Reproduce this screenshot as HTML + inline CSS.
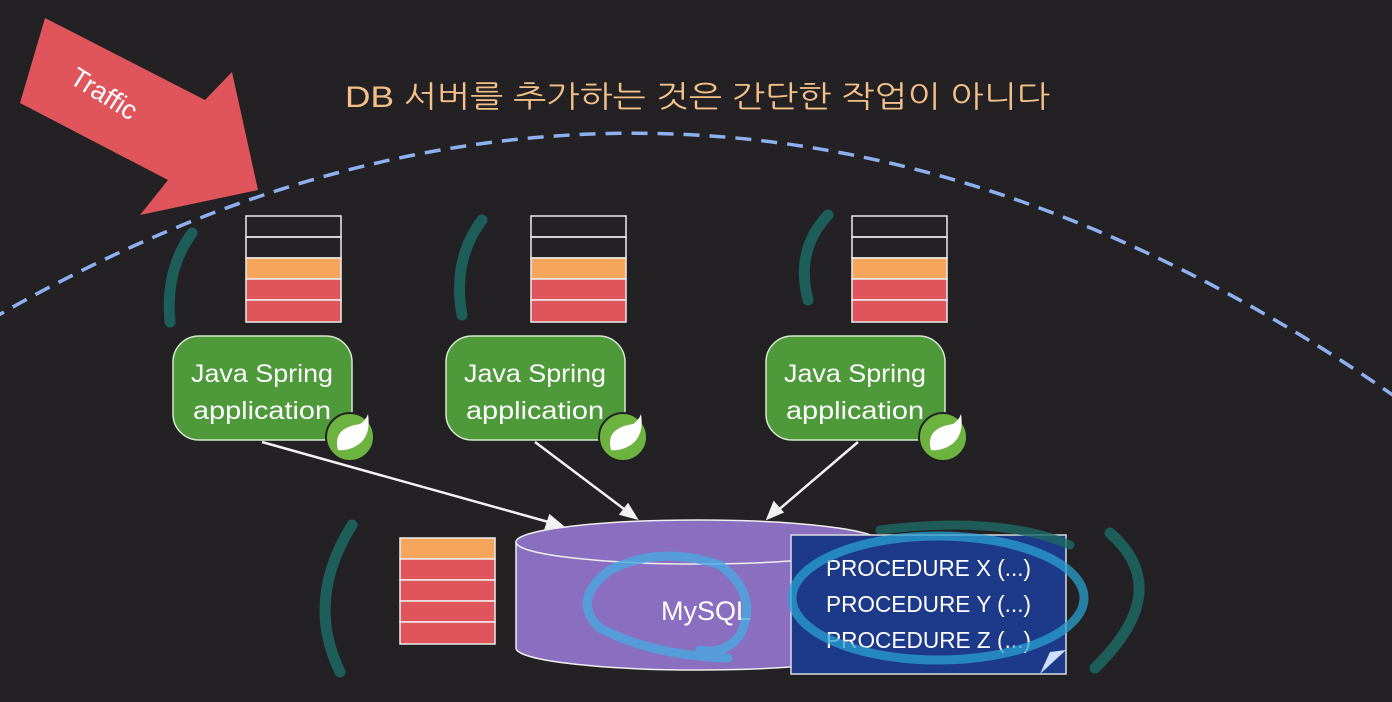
<!DOCTYPE html>
<html><head><meta charset="utf-8"><style>
html,body{margin:0;padding:0;background:#232123;}
svg{display:block}
text{font-family:"Liberation Sans","NanumGothic","Noto Sans CJK KR",sans-serif}
</style></head><body>
<svg width="1392" height="702" viewBox="0 0 1392 702" xmlns="http://www.w3.org/2000/svg">
<rect width="1392" height="702" fill="#232123"/>
<polygon points="45,18 205,100 232,72 258,190 140,215 168,180 20,103" fill="#e0555c"/>
<text x="0" y="0" transform="translate(68,82) rotate(32)" fill="#fff" font-size="27">Traffic</text>
<path d="M -10 320 Q 697 -90 1400 400" fill="none" stroke="#8fb0f0" stroke-width="3.5" stroke-dasharray="16,10"/>
<text x="345" y="107" fill="#f4c08a" font-size="30" textLength="705" lengthAdjust="spacingAndGlyphs">DB 서버를 추가하는 것은 간단한 작업이 아니다</text>
<g id="s1">
<rect x="246" y="216" width="95" height="21" fill="none" stroke="#eee" stroke-width="1.5"/>
<rect x="246" y="237" width="95" height="21" fill="none" stroke="#eee" stroke-width="1.5"/>
<rect x="246" y="258" width="95" height="21" fill="#f6a55d" stroke="#eee" stroke-width="1.5"/>
<rect x="246" y="279" width="95" height="21" fill="#e0555c" stroke="#eee" stroke-width="1.5"/>
<rect x="246" y="300" width="95" height="22" fill="#e0555c" stroke="#eee" stroke-width="1.5"/>
</g>
<use href="#s1" x="285"/>
<use href="#s1" x="606"/>
<g fill="none" stroke="#1d5e5a" stroke-width="11" stroke-linecap="round">
<path d="M192 233 Q165 270 170 322"/>
<path d="M482 220 Q452 260 462 315"/>
<path d="M828 215 Q795 250 808 300"/>
<path d="M352 525 Q305 600 340 672"/>
<path d="M1110 533 Q1175 590 1095 668"/>
</g>
<g stroke="#f2f2f2" stroke-width="2.5" fill="#f2f2f2">
<line x1="262" y1="442" x2="552" y2="523"/><polygon points="562,526 546,528 550,516"/>
<line x1="535" y1="442" x2="628" y2="512"/><polygon points="636,518 621,514 628,505"/>
<line x1="858" y1="442" x2="776" y2="512"/><polygon points="768,518 774,503 782,512"/>
</g>
<g>
<rect x="173" y="336" width="179" height="104" rx="26" fill="#4e9a3a" stroke="#d8e8d0" stroke-width="1.5"/>
<rect x="446" y="336" width="179" height="104" rx="26" fill="#4e9a3a" stroke="#d8e8d0" stroke-width="1.5"/>
<rect x="766" y="336" width="179" height="104" rx="26" fill="#4e9a3a" stroke="#d8e8d0" stroke-width="1.5"/>
</g>
<g fill="#fff" font-size="25" text-anchor="middle">
<text x="262" y="382" textLength="142" lengthAdjust="spacingAndGlyphs">Java Spring</text><text x="262" y="419" textLength="138" lengthAdjust="spacingAndGlyphs">application</text>
<text x="535" y="382" textLength="142" lengthAdjust="spacingAndGlyphs">Java Spring</text><text x="535" y="419" textLength="138" lengthAdjust="spacingAndGlyphs">application</text>
<text x="855" y="382" textLength="142" lengthAdjust="spacingAndGlyphs">Java Spring</text><text x="855" y="419" textLength="138" lengthAdjust="spacingAndGlyphs">application</text>
</g>
<g id="leaf">
<circle cx="350" cy="437" r="24" fill="#6db33f" stroke="#232123" stroke-width="2"/>
<path d="M338 450 Q332 428 360 424 Q366 420 368 414 Q372 440 352 448 Q344 451 338 450Z" fill="#fff"/>
</g>
<use href="#leaf" x="273"/>
<use href="#leaf" x="593"/>
<g stroke="#eee" stroke-width="1.5">
<rect x="400" y="538" width="95" height="21" fill="#f6a55d"/>
<rect x="400" y="559" width="95" height="21" fill="#e0555c"/>
<rect x="400" y="580" width="95" height="21" fill="#e0555c"/>
<rect x="400" y="601" width="95" height="21" fill="#e0555c"/>
<rect x="400" y="622" width="95" height="22" fill="#e0555c"/>
</g>
<path d="M516 542 L516 648 A182 22 0 0 0 880 648 L880 542 Z" fill="#8a6fc0" stroke="#eee" stroke-width="1.5"/>
<ellipse cx="698" cy="542" rx="182" ry="22" fill="#8a6fc0" stroke="#eee" stroke-width="1.5"/>
<text x="706" y="620" fill="#fff" font-size="27" text-anchor="middle">MySQL</text>
<rect x="791" y="535" width="275" height="139" fill="#1d3a8a" stroke="#ddd" stroke-width="1.5"/>
<path d="M1040 674 L1066 650 L1050 652 Z" fill="#cfe0ff"/>
<g fill="#fff" font-size="23">
<text x="826" y="576" textLength="205" lengthAdjust="spacingAndGlyphs">PROCEDURE X (...)</text>
<text x="826" y="612" textLength="205" lengthAdjust="spacingAndGlyphs">PROCEDURE Y (...)</text>
<text x="826" y="648" textLength="205" lengthAdjust="spacingAndGlyphs">PROCEDURE Z (...)</text>
</g>
<g fill="none" stroke-linecap="round">
<path d="M728 658 Q650 655 600 628 Q570 600 610 570 Q660 545 720 565 Q760 595 740 635 Q725 655 700 650" stroke="#4aa8e0" stroke-width="9" opacity="0.8"/>
<ellipse cx="938" cy="598" rx="146" ry="62" stroke="#2aa0d0" stroke-width="9" opacity="0.75"/>
<path d="M880 530 Q1000 515 1070 545" stroke="#1d6a66" stroke-width="9" opacity="0.8"/>
</g>
</svg>
</body></html>
